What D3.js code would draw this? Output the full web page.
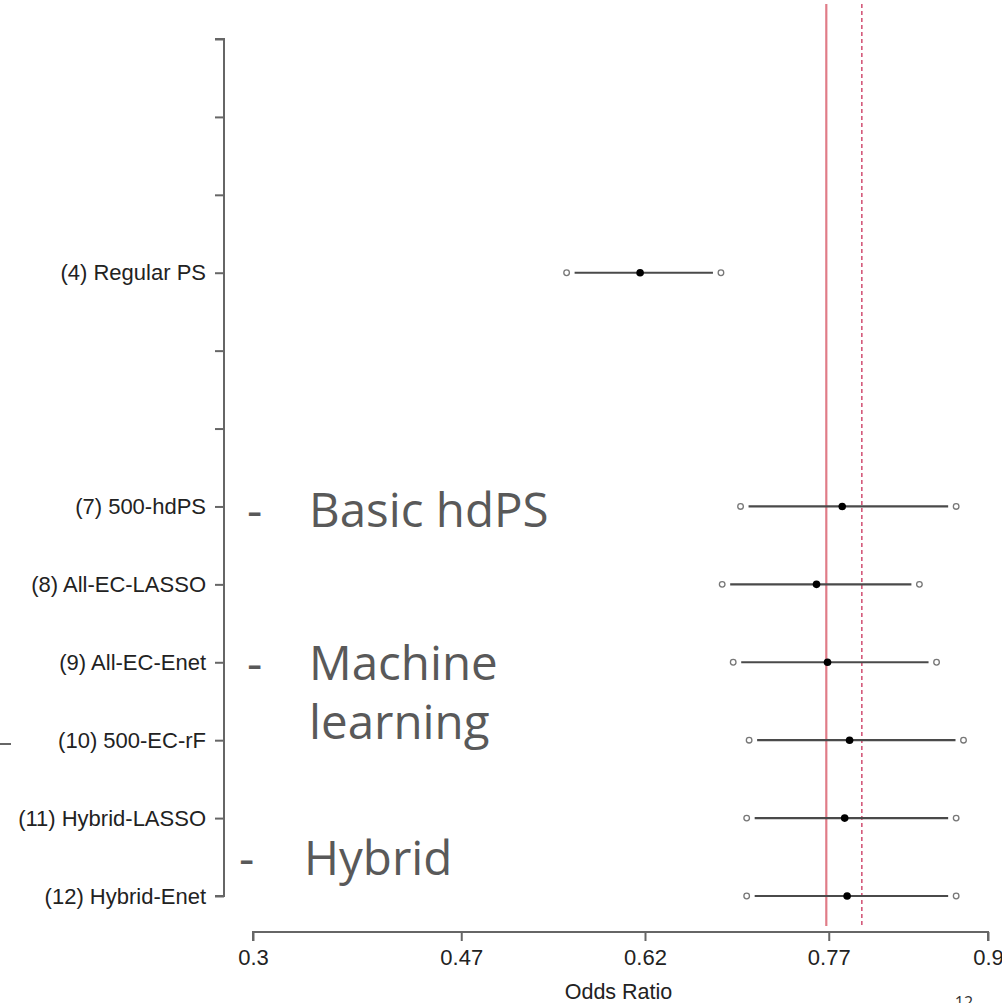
<!DOCTYPE html>
<html>
<head>
<meta charset="utf-8">
<script src="https://cdn.jsdelivr.net/npm/d3@7"></script>
<style>
  body { margin: 0; background: #fff; }
  svg { display: block; }
</style>
</head>
<body>
<div id="chart"></div>
<script>
// Forest plot of odds ratios by PS method

// row numbers (1 = top) and their labels; blank rows have no label
var rows = [1, 2, 3, 4, 5, 6, 7, 8, 9, 10, 11, 12];
var rowLabels = ["", "", "", "(4) Regular PS", "", "", "(7) 500-hdPS", "(8) All-EC-LASSO",
                 "(9) All-EC-Enet", "(10) 500-EC-rF", "(11) Hybrid-LASSO", "(12) Hybrid-Enet"];

// estimates with confidence limits, only for rows that have one
var estRows = [4, 7, 8, 9, 10, 11, 12];
var estimate = [0.616, 0.781, 0.760, 0.769, 0.787, 0.783, 0.785];
var lower    = [0.556, 0.698, 0.683, 0.692, 0.705, 0.703, 0.703];
var upper    = [0.682, 0.874, 0.844, 0.858, 0.880, 0.874, 0.874];

var xTicks = [0.3, 0.47, 0.62, 0.77, 0.9];
var refSolid = 0.768;
var refDashed = 0.797;

var svgWidth = 1002;
var svgHeight = 1003;
var rFont = "Liberation Sans, Arial, sans-serif";

var svg = d3.select("#chart")
  .append("svg")
  .attr("width", svgWidth)
  .attr("height", svgHeight);

var x = d3.scaleLinear().domain([0.3, 0.9]).range([253, 988]);
var y = d3.scaleLinear().domain([1, 12]).range([39, 896]);

var axisX = 224;   // where the y axis sits
var baseY = 932;   // where the x axis sits

// reference lines (drawn first so whiskers sit on top)
svg.append("line")
  .attr("x1", x(refSolid)).attr("x2", x(refSolid))
  .attr("y1", 4).attr("y2", baseY - 6)
  .attr("stroke", "#e07c88")
  .attr("stroke-width", 2.2);

svg.append("line")
  .attr("x1", x(refDashed)).attr("x2", x(refDashed))
  .attr("y1", 4).attr("y2", baseY - 6)
  .attr("stroke", "#d4587a")
  .attr("stroke-width", 1.6)
  .attr("stroke-dasharray", "4,3");

// y axis
var leftAxis = d3.axisLeft(y)
  .tickValues(rows)
  .tickSize(9)
  .tickPadding(9)
  .tickFormat(function(d, i) { return rowLabels[i]; });

var gy = svg.append("g")
  .attr("transform", "translate(" + axisX + ",0)")
  .call(leftAxis);
gy.select(".domain").attr("stroke", "#666").attr("stroke-width", 2)
  .attr("d", "M-9," + y(1) + "H0V" + y(12) + "H-9");
gy.selectAll(".tick line").attr("stroke", "#666").attr("stroke-width", 2);
gy.selectAll(".tick text")
  .attr("font-family", rFont)
  .attr("font-size", "22px")
  .attr("fill", "#222");

// x axis
var bottomAxis = d3.axisBottom(x)
  .tickValues(xTicks)
  .tickSize(9)
  .tickPadding(8)
  .tickFormat(function(d) { return d; });

var gx = svg.append("g")
  .attr("transform", "translate(0," + baseY + ")")
  .call(bottomAxis);
gx.select(".domain").attr("stroke", "#666").attr("stroke-width", 2)
  .attr("d", "M" + x(0.3) + ",9V0H" + x(0.9) + "V9");
gx.selectAll(".tick line").attr("stroke", "#666").attr("stroke-width", 2);
gx.selectAll(".tick text")
  .attr("font-family", rFont)
  .attr("font-size", "22px")
  .attr("fill", "#222");

svg.append("text")
  .attr("x", (x(0.3) + x(0.9)) / 2 - 2)
  .attr("y", 999)
  .attr("text-anchor", "middle")
  .attr("font-family", rFont)
  .attr("font-size", "21.5px")
  .attr("fill", "#222")
  .text("Odds Ratio");

// whiskers, open end circles and filled estimates
var est = estRows.map(function(r, i) {
  return { row: r, est: estimate[i], lo: lower[i], hi: upper[i] };
});

var g = svg.append("g");
g.selectAll(".whisker")
  .data(est)
  .enter()
  .append("line")
  .attr("x1", d => x(d.lo) + 8)
  .attr("x2", d => x(d.hi) - 8)
  .attr("y1", d => y(d.row))
  .attr("y2", d => y(d.row))
  .attr("stroke", "#4a4a4a")
  .attr("stroke-width", 2.2);

g.selectAll(".lo")
  .data(est)
  .enter()
  .append("circle")
  .attr("cx", d => x(d.lo))
  .attr("cy", d => y(d.row))
  .attr("r", 2.8)
  .attr("fill", "#fff")
  .attr("stroke", "#777")
  .attr("stroke-width", 1.3);

g.selectAll(".hi")
  .data(est)
  .enter()
  .append("circle")
  .attr("cx", d => x(d.hi))
  .attr("cy", d => y(d.row))
  .attr("r", 2.8)
  .attr("fill", "#fff")
  .attr("stroke", "#777")
  .attr("stroke-width", 1.3);

g.selectAll(".pt")
  .data(est)
  .enter()
  .append("circle")
  .attr("cx", d => x(d.est))
  .attr("cy", d => y(d.row))
  .attr("r", 3.8)
  .attr("fill", "#000");

// slide overlay text
var note = svg.append("g")
  .attr("font-family", "Open Sans, sans-serif")
  .attr("font-size", "47.5px")
  .attr("fill", "#595959");

note.append("text").attr("x", 247).attr("y", 527).text("-");
note.append("text").attr("x", 309).attr("y", 527).text("Basic hdPS");
note.append("text").attr("x", 247).attr("y", 680).text("-");
note.append("text").attr("x", 309).attr("y", 680).text("Machine");
note.append("text").attr("x", 309).attr("y", 739).text("learning");
note.append("text").attr("x", 239).attr("y", 875).text("-");
note.append("text").attr("x", 304).attr("y", 875).text("Hybrid");

// stray dash at the left edge and the page number
svg.append("line")
  .attr("x1", 0).attr("x2", 11)
  .attr("y1", 744).attr("y2", 744)
  .attr("stroke", "#666").attr("stroke-width", 2);

svg.append("text")
  .attr("x", 964)
  .attr("y", 1008)
  .attr("text-anchor", "middle")
  .attr("font-family", "Open Sans, sans-serif")
  .attr("font-size", "16px")
  .attr("fill", "#333")
  .text("12");
</script>
</body>
</html>
